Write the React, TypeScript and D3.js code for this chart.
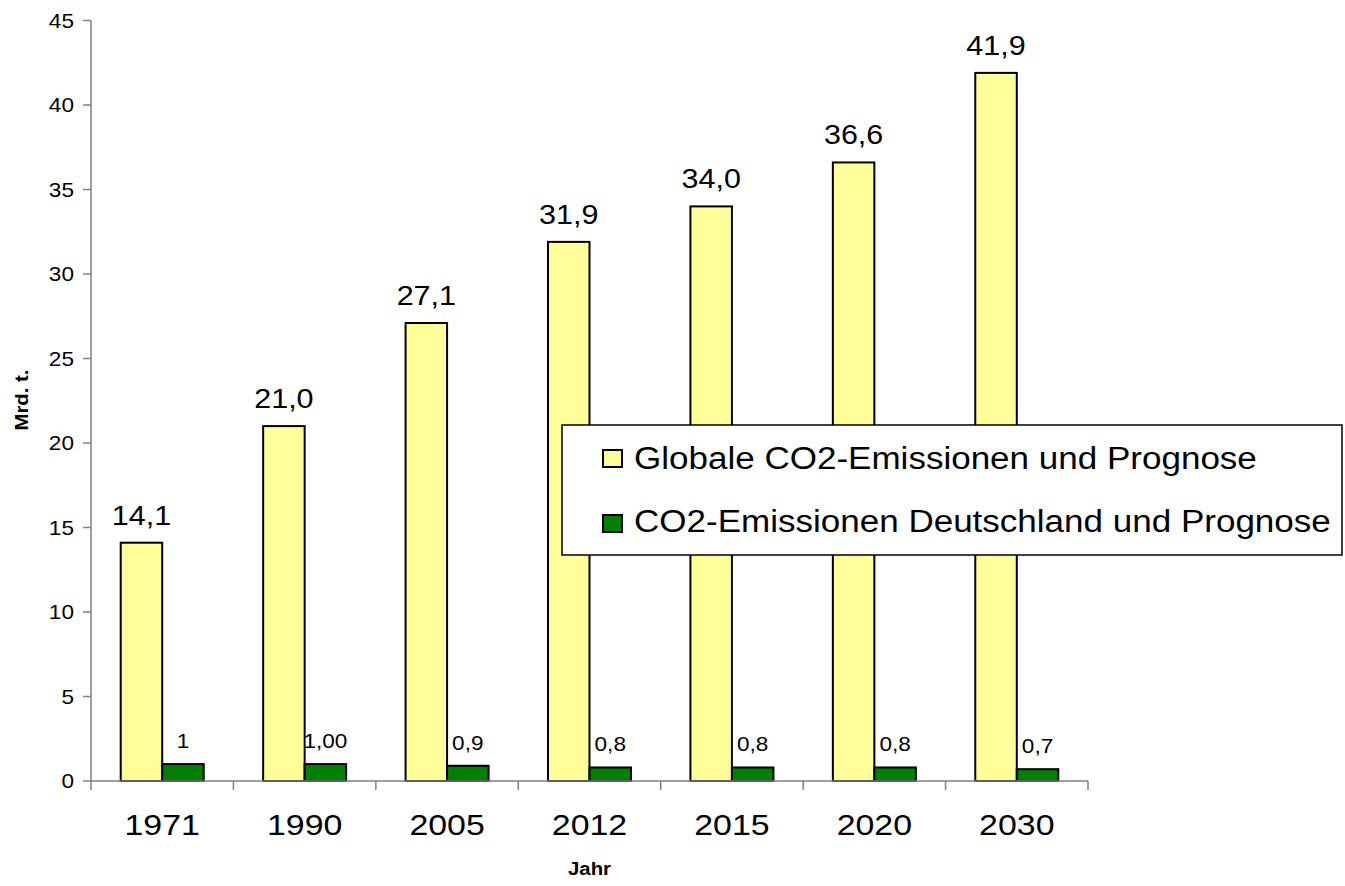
import React from "react";
import * as d3 from "d3";

const years = ["1971", "1990", "2005", "2012", "2015", "2020", "2030"];
const globalValues = [14.1, 21.0, 27.1, 31.9, 34.0, 36.6, 41.9];
const germanyValues = [1, 1.0, 0.9, 0.8, 0.8, 0.8, 0.7];
const germanyLabels = ["1", "1,00", "0,9", "0,8", "0,8", "0,8", "0,7"];
const seriesNames = ["Globale CO2-Emissionen und Prognose", "CO2-Emissionen Deutschland und Prognose"];
const seriesColors = ["#FFFF99", "#008000"];
const yTicks = [0, 5, 10, 15, 20, 25, 30, 35, 40, 45];

const W = 1345, H = 886;
const left = 91, right = 1088, top = 20.5, bottom = 781;
const FONT = "'Liberation Sans', Arial, sans-serif";
const SX = 1.13;

function T(props: { x: number; y: number; size: number; anchor?: string; bold?: boolean; rotate?: number; children: React.ReactNode }) {
  const { x, y, size, anchor = "start", bold = false, rotate = 0, children } = props;
  return (
    <text
      transform={`translate(${x},${y}) rotate(${rotate}) scale(${SX},1)`}
      fontSize={size}
      fontFamily={FONT}
      fontWeight={bold ? "bold" : "normal"}
      textAnchor={anchor}
      fill="#000"
    >
      {children}
    </text>
  );
}

export default function App() {
  const x0 = d3.scaleBand<string>().domain(years).range([left, right]).padding(0);
  const x1 = d3.scaleBand<string>().domain(["g", "d"]).range([0, x0.bandwidth()]).paddingInner(0).paddingOuter(0.716);
  const y = d3.scaleLinear().domain([0, 45]).range([bottom, top]);
  const fmt = (v: number) => v.toFixed(1).replace(".", ",");
  const boundaries = years.map((yr) => x0(yr)!).concat([right]);

  return (
    <svg width={W} height={H} style={{ position: "absolute", left: 0, top: 0, background: "#fff" }}>
      {/* bars */}
      {years.map((yr, i) => {
        const bx = x0(yr)!;
        const gx = bx + x1("g")!;
        const dx = bx + x1("d")!;
        const bw = x1.bandwidth();
        return (
          <g key={yr}>
            <rect x={gx} y={y(globalValues[i])} width={bw} height={y(0) - y(globalValues[i])} fill={seriesColors[0]} stroke="#000" strokeWidth={2} />
            <rect x={dx} y={y(germanyValues[i])} width={bw} height={y(0) - y(germanyValues[i])} fill={seriesColors[1]} stroke="#000" strokeWidth={2} />
            <T x={gx + bw / 2} y={y(globalValues[i]) - 18} size={27} anchor="middle">{fmt(globalValues[i])}</T>
            <T x={dx + bw / 2} y={y(germanyValues[i]) - 16} size={20} anchor="middle">{germanyLabels[i]}</T>
          </g>
        );
      })}
      {/* y axis */}
      <line x1={left} x2={left} y1={top} y2={bottom} stroke="#808080" strokeWidth={1.5} />
      {yTicks.map((t) => (
        <g key={t}>
          <line x1={left - 8} x2={left} y1={y(t)} y2={y(t)} stroke="#808080" strokeWidth={1.5} />
          <T x={74} y={y(t) + 7} size={20} anchor="end">{t}</T>
        </g>
      ))}
      {/* x axis */}
      <line x1={left} x2={right} y1={bottom} y2={bottom} stroke="#808080" strokeWidth={1.5} />
      {boundaries.map((b, i) => (
        <line key={i} x1={b} x2={b} y1={bottom} y2={bottom + 9} stroke="#808080" strokeWidth={1.5} />
      ))}
      {years.map((yr) => (
        <T key={yr} x={x0(yr)! + x0.bandwidth() / 2} y={835} size={30} anchor="middle">{yr}</T>
      ))}
      <T x={(left + right) / 2} y={875} size={18} anchor="middle" bold>Jahr</T>
      <T x={28} y={400} size={18} anchor="middle" bold rotate={-90}>Mrd. t.</T>
      {/* legend */}
      <rect x={562} y={425} width={780} height={130} fill="#fff" stroke="#000" strokeWidth={1.5} />
      {seriesNames.map((name, i) => (
        <g key={name}>
          <rect x={603} y={450 + i * 65} width={19} height={17} fill={seriesColors[i]} stroke="#000" strokeWidth={2} />
          <T x={634} y={469 + i * 63} size={31}>{name}</T>
        </g>
      ))}
    </svg>
  );
}
